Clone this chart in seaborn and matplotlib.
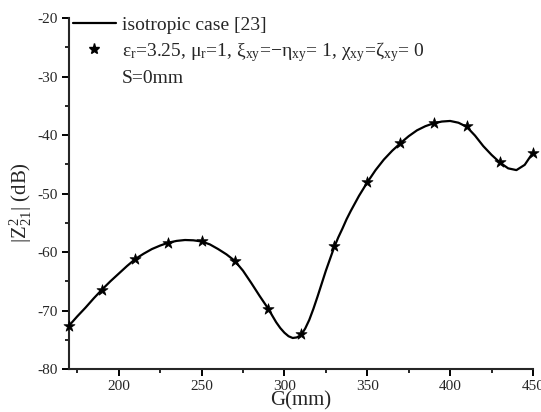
import matplotlib
matplotlib.use("Agg")
import matplotlib.pyplot as plt
from matplotlib.lines import Line2D
from matplotlib.ticker import MultipleLocator
import seaborn as sns
import pandas as pd

# isotropic case [23] (line)
line_x = [170, 175, 180, 185, 190, 195, 200, 205, 210, 215, 220, 225, 230, 235,
          240, 245, 250, 255, 260, 265, 270, 275, 280, 285, 290, 295, 297.5, 300,
          302.5, 305, 307.5, 310, 312.5, 315, 317.5, 320, 322.5, 325, 327.5, 330,
          332.5, 335, 337.5, 340, 345, 350, 355, 360, 365, 370, 375,
          380, 385, 390, 395, 400, 405, 410, 415, 420, 425, 430, 435, 440, 445, 450]
line_y = [-72.6, -71.0, -69.5, -67.9, -66.4, -65.0, -63.7, -62.4, -61.2, -60.3,
          -59.5, -58.9, -58.4, -58.1, -57.95, -58.0, -58.2, -58.7, -59.5, -60.4,
          -61.5, -63.2, -65.3, -67.5, -69.6, -72.0, -73.0, -73.8,
          -74.4, -74.7, -74.6, -74.2, -73.1, -71.6, -69.7, -67.6, -65.4, -63.2,
          -61.2, -59.2, -57.5, -56.0, -54.4, -53.0, -50.4, -48.1, -46.0, -44.2,
          -42.7, -41.4, -40.2, -39.2, -38.5, -38.0, -37.7, -37.6, -37.9, -38.6,
          -40.1, -41.9, -43.4, -44.7, -45.7, -46.0, -45.1, -43.0]

# bi-anisotropic case (stars)
star_x = [170, 190, 210, 230, 250, 270, 290, 310, 330, 350, 370, 390, 410, 430, 450]
star_y = [-72.6, -66.5, -61.2, -58.4, -58.2, -61.5, -69.8, -74.0, -59.0, -48.0,
          -41.3, -38.0, -38.5, -44.6, -43.1]

label_line = "isotropic case [23]"
label_star = (r"$\mathrm{ε}_\mathrm{r}$=3.25, $\mathrm{μ}_\mathrm{r}$=1, "
              r"$\mathrm{ξ}_\mathrm{xy}$=$-\mathrm{η}_\mathrm{xy}$= 1, "
              r"$\mathrm{χ}_\mathrm{xy}$=$\mathrm{ζ}_\mathrm{xy}$= 0")
label_extra = "S=0mm"

sns.set_style("ticks")
plt.rcParams["font.family"] = ["Liberation Serif", "DejaVu Serif"]
plt.rcParams["mathtext.fontset"] = "custom"
plt.rcParams["mathtext.rm"] = "Liberation Serif"
plt.rcParams["mathtext.it"] = "Liberation Serif:italic"
plt.rcParams["mathtext.bf"] = "Liberation Serif:bold"
plt.rcParams["axes.unicode_minus"] = False

fig = plt.figure(figsize=(5.41, 4.12), dpi=100)
ax = fig.add_axes([69 / 541, 1 - 369 / 412, (533 - 69) / 541, (369 - 18) / 412])

df_line = pd.DataFrame({"G": line_x, "Z": line_y})
df_star = pd.DataFrame({"G": star_x, "Z": star_y})
sns.lineplot(data=df_line, x="G", y="Z", ax=ax, color="black", linewidth=1.6,
             clip_on=False)
sns.scatterplot(data=df_star, x="G", y="Z", ax=ax, marker="*", s=70,
                color="black", edgecolor="black", linewidth=0.5, zorder=3,
                clip_on=False)

ax.set_xlim(170, 450)
ax.set_ylim(-80, -20)
ax.xaxis.set_major_locator(MultipleLocator(50))
ax.xaxis.set_minor_locator(MultipleLocator(25))
ax.yaxis.set_major_locator(MultipleLocator(10))
ax.yaxis.set_minor_locator(MultipleLocator(5))
for s in ["top", "right"]:
    ax.spines[s].set_visible(False)
for s in ["left", "bottom"]:
    ax.spines[s].set_linewidth(1.5)
ax.tick_params(which="major", direction="out", length=5, width=1.4,
               labelsize=11, pad=3, color="black")
ax.tick_params(which="minor", direction="out", length=3, width=1.2, color="black")

ax.set_xlabel("G(mm)", fontsize=15, labelpad=-1)
ax.set_ylabel(r"$|\mathrm{Z}^2_{21}|$ (dB)", fontsize=15)
ax.yaxis.set_label_coords(-0.075, 0.475)

handles = [Line2D([], [], color="black", linewidth=1.6),
           Line2D([], [], color="black", marker="*", linestyle="none", markersize=8),
           Line2D([], [], color="none")]
ax.legend(handles, [label_line, label_star, label_extra], loc="upper left",
          bbox_to_anchor=(0.0, 1.015), frameon=False, fontsize=14,
          handlelength=2.2, handletextpad=0.3, labelspacing=0.3,
          borderaxespad=0.0, borderpad=0.2)

fig.savefig("out.png", dpi=100)
